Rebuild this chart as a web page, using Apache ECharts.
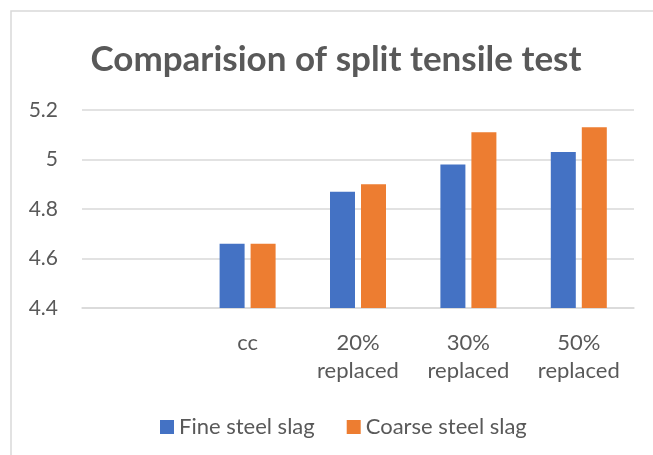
<!DOCTYPE html>
<html>
<head>
<meta charset="utf-8">
<script src="https://cdn.jsdelivr.net/npm/echarts@6/dist/echarts.min.js"></script>
<style>
  html, body { margin: 0; padding: 0; background: #fff; }
  #chart { width: 653px; height: 455px; }
</style>
</head>
<body>
<div id="chart"></div>
<script>
// categories (first slot is empty in the original sheet)
const categories = ["", "cc", "20%\nreplaced", "30%\nreplaced", "50%\nreplaced"];
const fineSlag = [null, 4.66, 4.87, 4.98, 5.03];
const coarseSlag = [null, 4.66, 4.90, 5.11, 5.13];
const yTicks = { min: 4.4, max: 5.2, step: 0.2 };

const chart = echarts.init(document.getElementById("chart"));
const font = "Lato, 'Open Sans', sans-serif";
const gray = "#595959";

chart.setOption({
  animation: false,
  textStyle: { fontFamily: font },
  title: {
    text: "Comparision of split tensile test",
    left: 331,
    textAlign: "center",
    top: 37,
    textStyle: { fontSize: 35, fontWeight: "bold", color: gray, fontFamily: font },
  },
  graphic: [
    {
      type: "rect",
      shape: { x: 11, y: 11, width: 700, height: 500 },
      style: { fill: "none", stroke: "#d9d9d9", lineWidth: 1.5 },
      silent: true,
    },
  ],
  legend: {
    top: 411,
    left: 155,
    itemWidth: 14,
    itemHeight: 14,
    itemGap: 32,
    icon: "rect",
    textStyle: { fontSize: 22, color: gray, fontFamily: font },
    data: ["Fine steel slag", "Coarse steel slag"],
  },
  grid: { left: 82, right: 19, top: 110, bottom: 147 },
  xAxis: {
    type: "category",
    data: categories,
    axisLine: { show: true, lineStyle: { color: "#d9d9d9", width: 1.5 } },
    axisTick: { show: false },
    axisLabel: { color: gray, fontSize: 22, lineHeight: 28, margin: 21 },
  },
  yAxis: {
    type: "value",
    min: yTicks.min,
    max: yTicks.max,
    interval: yTicks.step,
    axisLine: { show: false },
    axisTick: { show: false },
    axisLabel: { color: gray, fontSize: 21, margin: 24 },
    splitLine: { lineStyle: { color: "#d9d9d9", width: 1.5 } },
  },
  series: [
    {
      name: "Fine steel slag",
      type: "bar",
      data: fineSlag,
      barWidth: 25,
      barGap: "24%",
      itemStyle: { color: "#4472C4" },
    },
    {
      name: "Coarse steel slag",
      type: "bar",
      data: coarseSlag,
      barWidth: 25,
      itemStyle: { color: "#ED7D31" },
    },
  ],
});
</script>
</body>
</html>
